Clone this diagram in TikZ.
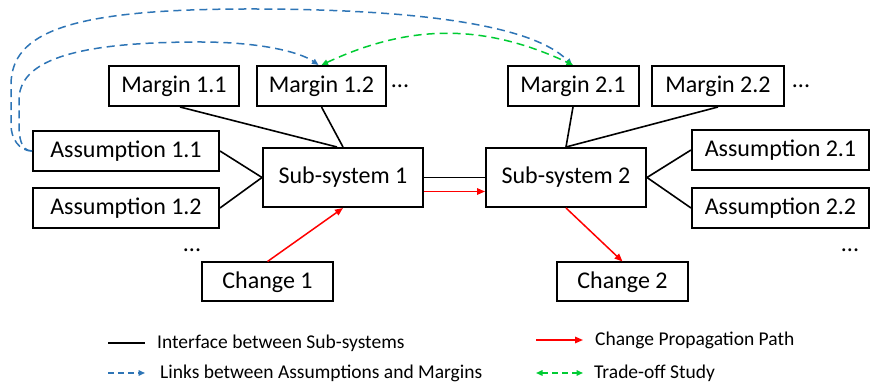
\documentclass[tikz,border=0pt]{standalone}
\usepackage{fontspec}
\setmainfont{Carlito}
\usepackage{tikz}
\usetikzlibrary{arrows.meta,positioning}
\definecolor{linkblue}{RGB}{46,117,182}
\definecolor{tradegreen}{RGB}{0,204,51}

\begin{document}
\begin{tikzpicture}
          [x=1pt,y=1pt,
            every node/.style={font=\fontsize{24}{28}\selectfont},
            box/.style={draw,line width=2pt,minimum height=40pt,inner sep=0pt},
            iface/.style={line width=1.6pt},
            prop/.style={red,line width=1.5pt,-{Triangle[length=8pt,width=6.5pt]}},
            link/.style={linkblue,line width=1.5pt,dash pattern=on 8pt off 5pt,-{Triangle[length=6.5pt,width=5.5pt]}},
            trade/.style={tradegreen,line width=1.5pt,dash pattern=on 8pt off 5pt,{Triangle[length=6.5pt,width=5.5pt]}-{Triangle[length=6.5pt,width=5.5pt]}},
            legend/.style={font=\fontsize{19.5}{22}\selectfont,inner sep=0pt}]
          \useasboundingbox (0,0) rectangle (870,387);
          % margins
          \node[box,minimum width=130pt] (m11) at (174,301) {Margin 1.1};
          \node[box,minimum width=129pt] (m12) at (321.5,301) {Margin 1.2};
          \node (d1) at (400,301) {...};
          \node[box,minimum width=131pt] (m21) at (573,301) {Margin 2.1};
          \node[box,minimum width=132pt] (m22) at (718,301) {Margin 2.2};
          \node (d2) at (801,301) {...};
          % assumptions
          \node[box,minimum width=186pt] (a11) at (126,236) {Assumption 1.1};
          \node[box,minimum width=186pt] (a12) at (126,179) {Assumption 1.2};
          \node (d3) at (192,137) {...};
          \node[box,minimum width=177pt] (a21) at (780.5,237) {Assumption 2.1};
          \node[box,minimum width=177pt] (a22) at (780.5,179) {Assumption 2.2};
          \node (d4) at (850,137) {...};
          % sub-systems and changes
          \node[box,minimum width=160pt,minimum height=59pt] (s1) at (343,209.5) {Sub-system 1};
          \node[box,minimum width=160pt,minimum height=59pt] (s2) at (566,209.5) {Sub-system 2};
          \node[box,minimum width=131pt,minimum height=39pt] (c1) at (267.5,105) {Change 1};
          \node[box,minimum width=131pt,minimum height=39pt] (c2) at (622.5,105) {Change 2};
          % interfaces
          \draw[iface] ([xshift=6pt]m11.south) -- ([xshift=-6pt]s1.north);
          \foreach \from/\to in {m12.south/s1.north,a11.east/s1.west,a12.east/s1.west,
            m21.south/s2.north,m22.south/s2.north,a21.west/s2.east,a22.west/s2.east,s1.east/s2.west}
          \draw[iface] (\from) -- (\to);
          % change propagation
          \draw[prop] ([yshift=-14pt]s1.east) -- ([yshift=-14pt]s2.west);
          \draw[prop] (c1.north) -- (s1.south);
          \draw[prop] (s2.south) -- (c2.north);
          % links and trade-off
          \draw[link] (a11.west) to[out=180,in=-90] (11,262) -- (11,302)
            .. controls (11,355) and (70,378) .. (250,378)
            .. controls (400,378) and (530,365) .. ([xshift=-1pt]m21.north);
          \draw[link] (a11.west) to[out=180,in=-90] (19,262) -- (19,287)
            .. controls (19,325) and (70,345) .. (200,345)
            .. controls (260,345) and (300,335) .. ([xshift=-3pt]m12.north);
          \draw[trade] (m12.north) to[bend left=25] (m21.north);
          % legend
          \coordinate (l1a) at (108,44);
          \coordinate (l1b) at (145,44);
          \coordinate (l2a) at (108,14);
          \coordinate (l2b) at (145,14);
          \coordinate (l3a) at (536,47);
          \coordinate (l3b) at (583,47);
          \coordinate (l4a) at (536,14);
          \coordinate (l4b) at (583,14);
          \draw[iface] (l1a) -- (l1b);
          \draw[link,dash pattern=on 6pt off 4pt] (l2a) -- (l2b);
          \draw[prop] (l3a) -- (l3b);
          \draw[trade,dash pattern=on 6pt off 4pt] (l4a) -- (l4b);
          \node[legend,right=12pt of l1b] (t1) {Interface between Sub-systems};
          \node[legend,right=15pt of l2b] (t2) {Links between Assumptions and Margins};
          \node[legend,right=12pt of l3b] (t3) {Change Propagation Path};
          \node[legend,right=11pt of l4b] (t4) {Trade-off Study};
        \end{tikzpicture}
\end{document}
